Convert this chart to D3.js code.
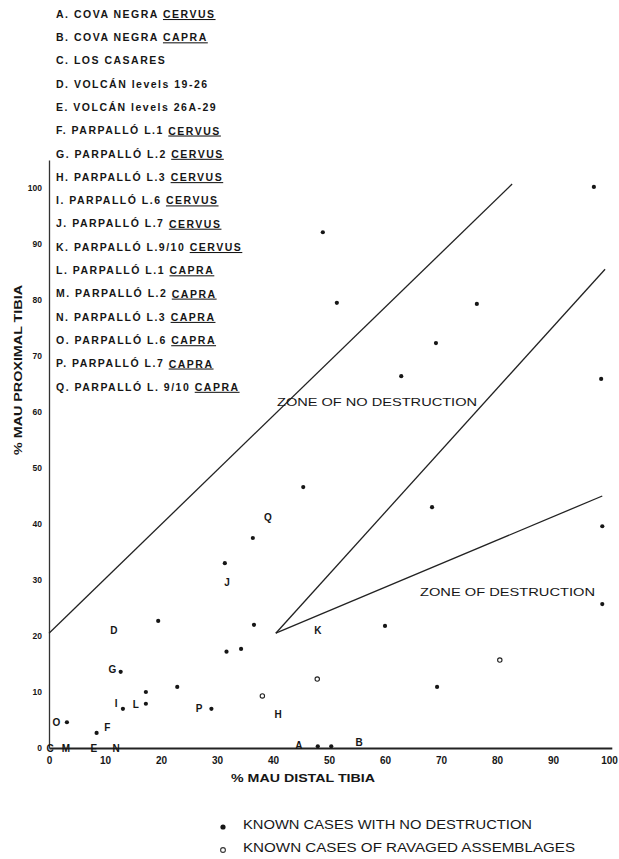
<!DOCTYPE html>
<html>
<head>
<meta charset="utf-8">
<script src="https://cdn.jsdelivr.net/npm/d3@7"></script>
<style>
  body { margin: 0; background: #fff; }
  svg text { font-family: "Liberation Sans", Arial, sans-serif; fill: #161616; }
</style>
</head>
<body>
<div id="chart"></div>
<script>
// key to the lettered assemblages
const caseNames = [
  'A. COVA NEGRA ', 'B. COVA NEGRA ', 'C. LOS CASARES', 'D. VOLCÁN levels 19-26',
  'E. VOLCÁN levels 26A-29', 'F. PARPALLÓ L.1 ', 'G. PARPALLÓ L.2 ', 'H. PARPALLÓ L.3 ',
  'I. PARPALLÓ L.6 ', 'J. PARPALLÓ L.7 ', 'K. PARPALLÓ L.9/10 ', 'L. PARPALLÓ L.1 ',
  'M. PARPALLÓ L.2 ', 'N. PARPALLÓ L.3 ', 'O. PARPALLÓ L.6 ', 'P. PARPALLÓ L.7 ',
  'Q. PARPALLÓ L. 9/10 '
];
const caseTaxa = [
  'CERVUS', 'CAPRA', '', '', '', 'CERVUS', 'CERVUS', 'CERVUS', 'CERVUS', 'CERVUS',
  'CERVUS', 'CAPRA', 'CAPRA', 'CAPRA', 'CAPRA', 'CAPRA', 'CAPRA'
];

// letters plotted in the graph [letter, % distal, % proximal]
const caseLetters = [
  ['A', 44.6, 0.5], ['B', 55.4, 0.9], ['C', 0.2, 0], ['D', 11.6, 20.9],
  ['E', 8, 0], ['F', 10.4, 3.6], ['G', 11.3, 14.1], ['H', 40.9, 5.9],
  ['I', 12, 8], ['J', 31.8, 29.6], ['K', 48, 20.9], ['L', 15.5, 7.7],
  ['M', 3, 0], ['N', 12, 0], ['O', 1.3, 4.5], ['P', 26.8, 7.1], ['Q', 39.1, 41.2]
];
// dots that sit beside some letters
const caseDots = [[8.5, 2.7], [12.8, 13.6], [13.2, 7], [17.3, 7.9], [29, 7], [3.2, 4.6]];

// known cases
const noDestruction = [
  [48.9, 92.1], [97.3, 100.2], [51.4, 79.5], [76.4, 79.3], [69.1, 72.3],
  [62.9, 66.4], [98.6, 65.9], [45.4, 46.6], [36.4, 37.5], [31.4, 33],
  [68.4, 43], [98.8, 39.6], [19.5, 22.7], [36.6, 22], [31.7, 17.2],
  [34.3, 17.7], [22.9, 10.9], [17.3, 10], [60, 21.8], [98.8, 25.7],
  [69.3, 10.9], [48, 0.3], [50.4, 0.3]
];
const ravaged = [[38.1, 9.3], [47.9, 12.3], [80.5, 15.7]];

// zone boundaries
const zoneLines = [
  [[0, 20.5], [82.7, 100.7]],
  [[40.5, 20.5], [99.3, 85.5]],
  [[40.5, 20.5], [98.8, 45]]
];

const xTicks = [0, 10, 20, 30, 40, 50, 60, 70, 80, 90, 100];
const yTicks = [0, 10, 20, 30, 40, 50, 60, 70, 80, 90, 100];

// chart setup
const W = 619;
const H = 859;
const x = d3.scaleLinear().domain([0, 100.5]).range([49, 49 + 100.5 * 5.6]);
const y = d3.scaleLinear().domain([0, 105]).range([748, 748 - 105 * 5.6]);

const svg = d3.select('#chart').append('svg')
  .attr('width', W)
  .attr('height', H);

// key at top
const key = svg.append('g').attr('class', 'key');
caseNames.forEach((name, i) => {
  const t = key.append('text')
    .attr('x', 56)
    .attr('y', 15 + i * 23.3)
    .attr('dominant-baseline', 'middle')
    .style('font-size', '10.5px')
    .style('font-weight', 'bold')
    .style('letter-spacing', '1.5px')
    .text(name);
  if (caseTaxa[i]) {
    t.append('tspan')
      .style('text-decoration', 'underline')
      .text(caseTaxa[i]);
  }
});

// axes
const axisX = svg.append('g')
  .attr('transform', `translate(0, ${y(0)})`)
  .call(d3.axisBottom(x).tickValues(xTicks).tickSize(0).tickPadding(9));
axisX.select('.domain').attr('stroke', '#222').attr('stroke-width', 1.8);
axisX.selectAll('text')
  .style('font-size', '10px')
  .style('font-weight', 'bold')
  .attr('fill', '#161616');

const axisY = svg.append('g')
  .attr('transform', `translate(${x(0)}, 0)`)
  .call(d3.axisLeft(y).tickValues(yTicks).tickSize(0).tickPadding(7));
axisY.select('.domain').attr('stroke', '#333').attr('stroke-width', 1.3);
axisY.selectAll('text')
  .style('font-size', '8.5px')
  .style('font-weight', 'bold')
  .attr('fill', '#161616');

svg.append('text')
  .attr('transform', `translate(19, 370) rotate(-90)`)
  .attr('text-anchor', 'middle')
  .attr('dominant-baseline', 'middle')
  .attr('textLength', 170)
  .attr('lengthAdjust', 'spacingAndGlyphs')
  .style('font-size', '10px')
  .style('font-weight', 'bold')
  .text('% MAU PROXIMAL TIBIA');

svg.append('text')
  .attr('x', 231)
  .attr('y', 779)
  .attr('dominant-baseline', 'middle')
  .attr('textLength', 144)
  .attr('lengthAdjust', 'spacingAndGlyphs')
  .style('font-size', '10.5px')
  .style('font-weight', 'bold')
  .text('% MAU DISTAL TIBIA');

// zone boundary lines
const line = d3.line()
  .x(d => { return x(d[0]); })
  .y(d => { return y(d[1]); });

svg.selectAll('path.zone')
  .data(zoneLines)
  .enter()
  .append('path')
  .attr('class', 'zone')
  .attr('d', line)
  .attr('fill', 'none')
  .attr('stroke', '#222')
  .attr('stroke-width', 1.3);

svg.append('text')
  .attr('x', 277)
  .attr('y', 403)
  .attr('dominant-baseline', 'middle')
  .attr('textLength', 200)
  .attr('lengthAdjust', 'spacingAndGlyphs')
  .style('font-size', '11px')
  .text('ZONE OF NO DESTRUCTION');

svg.append('text')
  .attr('x', 420)
  .attr('y', 593)
  .attr('dominant-baseline', 'middle')
  .attr('textLength', 175)
  .attr('lengthAdjust', 'spacingAndGlyphs')
  .style('font-size', '11px')
  .text('ZONE OF DESTRUCTION');

// points
svg.selectAll('circle.nd')
  .data(noDestruction.concat(caseDots))
  .enter()
  .append('circle')
  .attr('class', 'nd')
  .attr('cx', d => { return x(d[0]); })
  .attr('cy', d => { return y(d[1]); })
  .attr('r', 2.1)
  .attr('fill', '#161616');

svg.selectAll('circle.rv')
  .data(ravaged)
  .enter()
  .append('circle')
  .attr('class', 'rv')
  .attr('cx', d => { return x(d[0]); })
  .attr('cy', d => { return y(d[1]); })
  .attr('r', 2.2)
  .attr('fill', '#fff')
  .attr('stroke', '#222')
  .attr('stroke-width', 1.1);

svg.selectAll('text.case')
  .data(caseLetters)
  .enter()
  .append('text')
  .attr('class', 'case')
  .attr('x', d => { return x(d[1]); })
  .attr('y', d => { return y(d[2]); })
  .attr('text-anchor', 'middle')
  .attr('dominant-baseline', 'central')
  .style('font-size', '10px')
  .style('font-weight', 'bold')
  .text(d => { return d[0]; });

// legend at bottom
const legend = svg.append('g').attr('class', 'legend');
legend.append('circle')
  .attr('cx', 223).attr('cy', 827).attr('r', 2.6)
  .attr('fill', '#161616');
legend.append('circle')
  .attr('cx', 223).attr('cy', 850).attr('r', 2.4)
  .attr('fill', '#fff').attr('stroke', '#333').attr('stroke-width', 1.1);
legend.append('text')
  .attr('x', 243).attr('y', 826)
  .attr('dominant-baseline', 'middle')
  .attr('textLength', 289)
  .attr('lengthAdjust', 'spacingAndGlyphs')
  .style('font-size', '12px')
  .text('KNOWN CASES WITH NO DESTRUCTION');
legend.append('text')
  .attr('x', 243).attr('y', 849)
  .attr('dominant-baseline', 'middle')
  .attr('textLength', 332)
  .attr('lengthAdjust', 'spacingAndGlyphs')
  .style('font-size', '12px')
  .text('KNOWN CASES OF RAVAGED ASSEMBLAGES');
</script>
</body>
</html>
